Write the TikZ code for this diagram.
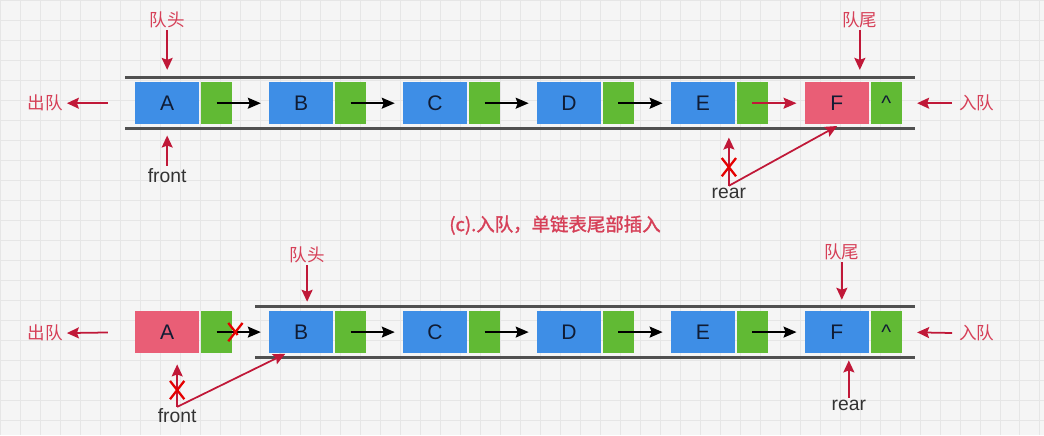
\documentclass[tikz,border=0pt]{standalone}
\usepackage{fontspec}
\setmainfont{Liberation Sans}
\newfontfamily\cjk{Noto Sans CJK SC}
\newfontfamily\cjkbold[FakeBold=1.6]{Noto Sans CJK SC}
\usetikzlibrary{arrows.meta,shapes.misc}

\definecolor{qblue}{RGB}{62,142,230}
\definecolor{qgreen}{RGB}{97,186,52}
\definecolor{qpink}{RGB}{233,94,118}
\definecolor{qred}{RGB}{192,24,56}
\definecolor{qlabel}{RGB}{214,64,88}
\definecolor{qtube}{RGB}{80,80,80}
\definecolor{qbg}{RGB}{245,245,245}
\definecolor{qgrid}{RGB}{230,230,230}
\definecolor{qtext}{RGB}{16,28,52}

\tikzset{
	every data/.style={rectangle, fill=qblue, minimum width=1.28cm, minimum height=0.84cm, inner sep=0pt, text=qtext, font=\fontsize{12}{14}\selectfont},
	every link/.style={rectangle, fill=qgreen, minimum width=0.62cm, minimum height=0.84cm, inner sep=0pt, text=qtext, font=\fontsize{12}{14}\selectfont},
	tdata F/.style={fill=qpink},
	bdata A/.style={fill=qpink},
	tube/.style={qtube, line width=1.7pt},
	nextarrow/.style={-{Stealth[length=0.26cm,width=0.22cm,inset=0.04cm]}, line width=0.9pt, shorten >=0.16cm},
	redptr/.style={-{Stealth[length=0.24cm,width=0.22cm,inset=0.04cm]}, qred, line width=1pt},
	tag/.style={text=qlabel, font=\cjk\fontsize{10}{12}\selectfont, inner sep=1pt},
	ptr/.style={text=black!80, font=\fontsize{11}{13}\selectfont, inner sep=1pt},
	xout/.style={cross out, draw=red!90!black, line width=1.3pt, minimum width=0.24cm, minimum height=0.32cm, inner sep=0pt}
}

\begin{document}
\begin{tikzpicture}[x=0.02cm, y=-0.02cm]
	% background
	\fill[qbg] (0,0) rectangle (1044,435);
	\foreach \gx in {0,20,...,1040}
	\draw[qgrid, line width=0.3pt] (\gx,0) -- (\gx,435);
	\foreach \gy in {0,20,...,420}
	\draw[qgrid, line width=0.3pt] (0,\gy) -- (1044,\gy);
	
	% top queue
	\draw[tube] (125,77) -- (915,77);
	\draw[tube] (125,128) -- (915,128);
	
	\foreach \l/\p [count=\i from 0] in {A/{},B/{},C/{},D/{},E/{},F/\textasciicircum} {
		\node [every data/.try, tdata \l/.try] (tdata-\l) at (167+134*\i,103) {\l};
		\node [every link/.try] (tlink-\l) at (216.5+134*\i,103) {\p};
	}
	
	\foreach \a/\b in {A/B,B/C,C/D,D/E}
	\draw [nextarrow] (tlink-\a.center) -- (tdata-\b.west);
	\draw [nextarrow, qred] (tlink-E.center) -- (tdata-F.west);
	
	\node [tag] (thead) at (167,20) {队头};
	\draw [redptr, shorten >=0.24cm] (thead.south) -- (tdata-A.north);
	\node [tag] (tout) at (45,103) {出队};
	\draw [redptr, shorten <=0.54cm, shorten >=0.04cm] (tdata-A.west) -- (tout.east);
	\node [ptr] (tfront) at (167,175) {front};
	\draw [redptr, shorten >=0.22cm] (tfront.north) -- (tdata-A.south);
	
	\node [tag] (ttail) at (860,20) {队尾};
	\draw [redptr, shorten >=0.24cm] (ttail.south) -- (ttail.south |- tdata-F.north);
	\node [tag] (tin) at (977,103) {入队};
	\draw [redptr, shorten <=0.1cm, shorten >=0.3cm] (tin.west) -- (tlink-F.east);
	\node [ptr] (trear) at (729,193) {rear};
	\draw [redptr, shorten >=0.26cm] (trear.north) -- (trear.north |- tdata-E.south);
	\node [xout] (tcross) at (729,167) {};
	\draw [redptr, shorten >=0.06cm] (trear.north) -- (tdata-F.-82);
	
	\node [tag, font=\cjkbold\fontsize{10.5}{12}\selectfont] (caption) at (555,225) {(c).入队，单链表尾部插入};
	
	% bottom queue
	\draw[tube] (255,306) -- (915,306);
	\draw[tube] (255,357) -- (915,357);
	
	\foreach \l/\p [count=\i from 0] in {A/{},B/{},C/{},D/{},E/{},F/\textasciicircum} {
		\node [every data/.try, bdata \l/.try] (bdata-\l) at (167+134*\i,332) {\l};
		\node [every link/.try] (blink-\l) at (216.5+134*\i,332) {\p};
	}
	
	\draw [nextarrow] (blink-A.center) -- (bdata-B.west) node [xout, pos=0.36] (bcross-link) {};
	\foreach \a/\b in {B/C,C/D,D/E,E/F}
	\draw [nextarrow] (blink-\a.center) -- (bdata-\b.west);
	
	\node [tag] (bhead) at (307,255) {队头};
	\draw [redptr, shorten >=0.18cm] (bhead.south) -- (bhead.south |- bdata-B.north);
	\node [tag] (bout) at (45,333) {出队};
	\draw [redptr, shorten <=0.54cm, shorten >=0.04cm] (bdata-A.west) -- (bout.east);
	\node [ptr] (bfront) at (177,416) {front};
	\draw [redptr, shorten >=0.22cm] (bfront.north) -- (bfront.north |- bdata-A.south);
	\node [xout] (bcross) at (177,390) {};
	\draw [redptr, shorten >=0.02cm] (bfront.north) -- (bdata-B.-125);
	
	\node [tag] (btail) at (842,252) {队尾};
	\draw [redptr, shorten >=0.22cm] (btail.south) -- (btail.south |- bdata-F.north);
	\node [tag] (bin) at (977,333) {入队};
	\draw [redptr, shorten <=0.1cm, shorten >=0.3cm] (bin.west) -- (blink-F.east);
	\node [ptr] (brear) at (849,405) {rear};
	\draw [redptr, shorten >=0.14cm] (brear.north) -- (brear.north |- bdata-F.south);
\end{tikzpicture}
\end{document}
